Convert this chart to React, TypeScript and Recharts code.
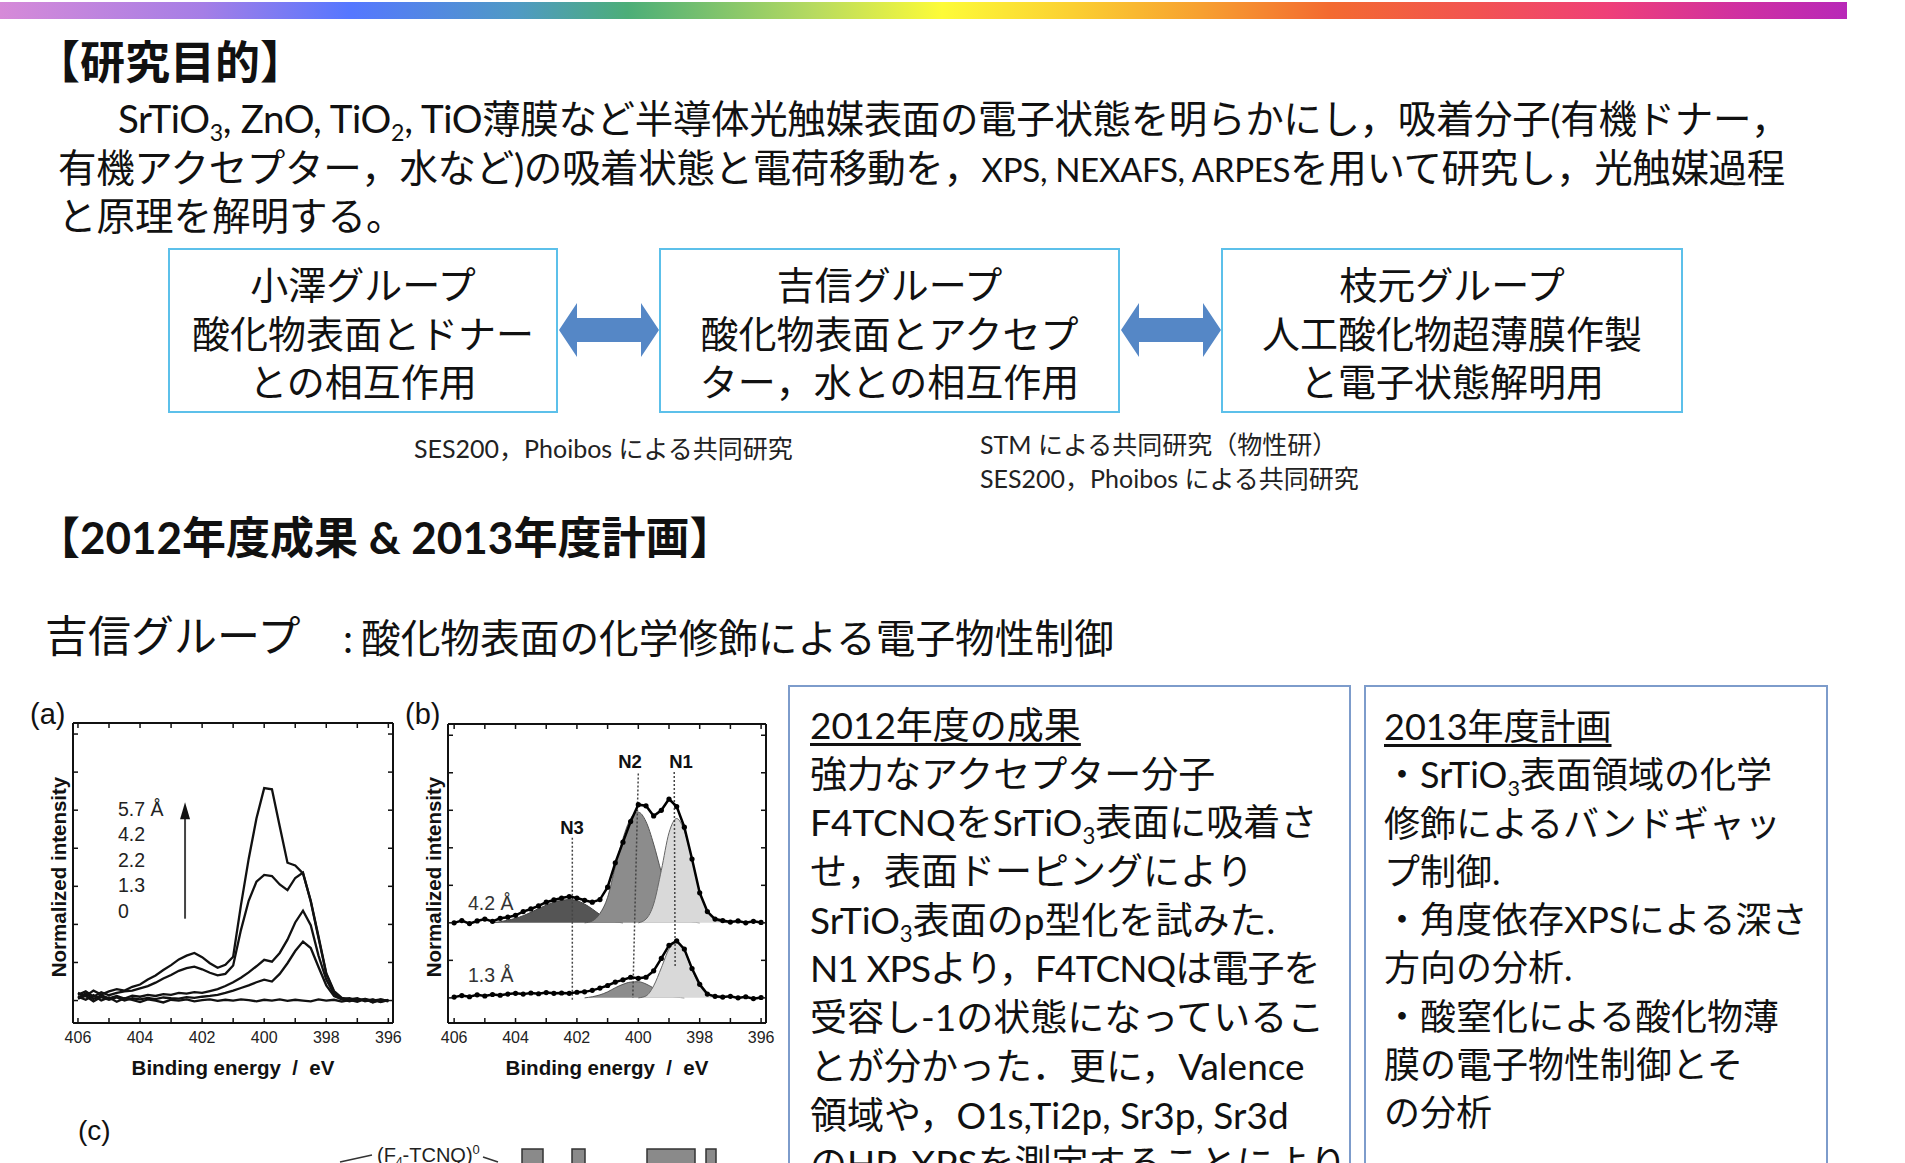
import React from 'react'
import { ComposedChart, Line, Area, XAxis, YAxis, ReferenceLine, ReferenceDot } from 'recharts'

// binding energy grid (eV), shared by both spectra panels
const energy = [
  406, 405.75, 405.5, 405.25, 405, 404.75, 404.5, 404.25, 404, 403.75,
  403.5, 403.25, 403, 402.75, 402.5, 402.25, 402, 401.75, 401.5, 401.25,
  401, 400.75, 400.5, 400.25, 400, 399.75, 399.5, 399.25, 399, 398.75,
  398.5, 398.25, 398, 397.75, 397.5, 397.25, 397, 396.75, 396.5, 396.25, 396,
]
const xTicks = [396, 397, 398, 399, 400, 401, 402, 403, 404, 405, 406]
const yTicks = [0, 1, 2, 3, 4, 5, 6, 7]

// (a) N1s spectra vs coverage
const a57 = [0.2, 0.12, 0.26, 0.16, 0.24, 0.3, 0.26, 0.36, 0.42, 0.55, 0.66, 0.8, 0.93, 1.08, 1.18, 1.25, 1.14, 0.98, 0.86, 0.94, 1.15, 2.5, 3.72, 4.78, 5.58, 5.55, 4.58, 3.62, 3.55, 3.34, 2.62, 1.68, 0.72, 0.25, 0.07, 0.03, 0.06, -0.02, 0.03, -0.03, 0.02]
const a42 = [0.15, 0.24, 0.1, 0.22, 0.14, 0.2, 0.24, 0.26, 0.32, 0.38, 0.47, 0.58, 0.67, 0.78, 0.85, 0.89, 0.82, 0.73, 0.66, 0.7, 0.92, 1.85, 2.62, 3.12, 3.3, 3.27, 3.05, 2.9, 3.22, 3.36, 2.6, 1.64, 0.7, 0.22, 0.05, 0.02, -0.03, 0.04, 0, 0.03, -0.01]
const a22 = [0.08, 0.18, 0.04, 0.14, 0.06, 0.12, 0.05, 0.13, 0.1, 0.15, 0.12, 0.17, 0.15, 0.2, 0.18, 0.22, 0.2, 0.25, 0.3, 0.38, 0.48, 0.6, 0.74, 0.9, 1.07, 1.02, 1.25, 1.6, 2.05, 2.36, 1.98, 1.18, 0.55, 0.17, 0.04, 0.06, 0, 0.03, -0.04, 0.02, 0]
const a13 = [0.05, 0.12, -0.02, 0.09, 0.02, 0.08, 0, 0.06, 0.03, 0.07, 0.04, 0.08, 0.06, 0.05, 0.09, 0.07, 0.1, 0.12, 0.15, 0.2, 0.26, 0.33, 0.4, 0.48, 0.55, 0.5, 0.7, 0.98, 1.3, 1.55, 1.38, 0.88, 0.4, 0.12, 0.03, -0.02, 0.04, 0, 0.02, -0.04, 0.01]
const a0 = [0.1, 0.02, 0.14, 0, 0.08, -0.03, 0.06, 0.02, -0.04, 0.03, 0, -0.05, 0.02, 0, 0.03, -0.02, 0.01, 0.03, -0.01, 0.02, 0, 0.03, 0.01, -0.02, 0.02, 0, 0.03, -0.01, 0.02, 0, -0.02, 0.03, 0, 0.02, -0.03, 0.01, 0, 0.04, -0.05, 0.02, -0.02]
const coverageLabels = ['5.7 Å', '4.2', '2.2', '1.3', '0']

// (b) measured points (4.2 Å sits on an offset of 2)
const b42 = [2, 2.06, 1.98, 2.05, 2.1, 2.04, 2.12, 2.15, 2.2, 2.3, 2.37, 2.45, 2.55, 2.61, 2.66, 2.7, 2.66, 2.6, 2.55, 2.62, 2.95, 3.6, 4.15, 4.7, 5.15, 5.12, 4.85, 5, 5.3, 5.1, 4.55, 3.7, 2.8, 2.3, 2.1, 2.06, 2.02, 2.05, 2, 2.04, 2.01]
const b13 = [0.02, 0.06, 0.03, 0.08, 0.05, 0.09, 0.07, 0.1, 0.12, 0.1, 0.13, 0.11, 0.14, 0.12, 0.13, 0.12, 0.15, 0.16, 0.2, 0.26, 0.33, 0.42, 0.48, 0.55, 0.52, 0.55, 0.72, 1.05, 1.4, 1.52, 1.3, 0.78, 0.36, 0.1, 0.04, 0.02, 0.04, 0, 0.03, -0.02, 0.01]
const offset42 = 2
const offset13 = 0

// fitted components (height above each spectrum's baseline)
const n3Up = [null, null, null, null, null, 0, 0.03, 0.07, 0.12, 0.19, 0.28, 0.38, 0.47, 0.55, 0.6, 0.62, 0.59, 0.5, 0.37, 0.22, 0.1, 0.03, 0, null, null, null, null, null, null, null, null, null, null, null, null, null, null, null, null, null, null]
const n2Up = [null, null, null, null, null, null, null, null, null, null, null, null, null, null, null, null, null, 0, 0.05, 0.25, 0.68, 1.5, 2.25, 2.78, 2.95, 2.7, 2.1, 1.35, 0.7, 0.3, 0.1, 0.03, 0, null, null, null, null, null, null, null, null]
const n1Up = [null, null, null, null, null, null, null, null, null, null, null, null, null, null, null, null, null, null, null, null, null, null, null, null, 0, 0.1, 0.5, 1.4, 2.4, 2.78, 2.45, 1.7, 0.85, 0.3, 0.08, 0.02, 0, null, null, null, null]
const n2Low = [null, null, null, null, null, null, null, null, null, null, null, null, null, null, null, null, null, 0, 0.03, 0.08, 0.16, 0.27, 0.36, 0.42, 0.43, 0.37, 0.26, 0.14, 0.06, 0.02, 0, null, null, null, null, null, null, null, null, null, null]
const n1Low = [null, null, null, null, null, null, null, null, null, null, null, null, null, null, null, null, null, null, null, null, null, null, null, null, 0, 0.05, 0.32, 0.8, 1.3, 1.47, 1.25, 0.75, 0.32, 0.1, 0.02, 0, null, null, null, null, null]

const JP = "Lato, 'Noto Sans CJK JP', sans-serif"
const CF = "'Liberation Sans', Arial, sans-serif"
const frame = { stroke: '#111', strokeWidth: 2 }
const TL = 5

const tick = (side: string, labels: boolean) => (p: any) => {
  const { x, y, payload } = p
  const v = payload.value
  let l = null
  if (side === 'bottom') l = <line x1={x} y1={y} x2={x} y2={y - TL} stroke="#111" strokeWidth={1.5} />
  if (side === 'top') l = <line x1={x} y1={y} x2={x} y2={y + TL} stroke="#111" strokeWidth={1.5} />
  if (side === 'left') l = <line x1={x} y1={y} x2={x + TL} y2={y} stroke="#111" strokeWidth={1.5} />
  if (side === 'right') l = <line x1={x} y1={y} x2={x - TL} y2={y} stroke="#111" strokeWidth={1.5} />
  return (
    <g>
      {l}
      {labels && v % 2 === 0 && (
        <text x={x} y={y + 20} textAnchor="middle" fontSize={16} fill="#222" fontFamily={CF}>
          {v}
        </text>
      )}
    </g>
  )
}

// boxed frame with inward ticks on all four sides
function frameAxes(domainX: number[], domainY: number[]) {
  return [
    <XAxis key="xb" xAxisId="b" dataKey="e" type="number" domain={domainX} reversed allowDataOverflow ticks={xTicks} interval={0} height={1} tickSize={0} tickMargin={0} tickLine={false} axisLine={frame} tick={tick('bottom', true)} />,
    <XAxis key="xt" xAxisId="t" orientation="top" dataKey="e" type="number" domain={domainX} reversed allowDataOverflow ticks={xTicks} interval={0} height={1} tickSize={0} tickMargin={0} tickLine={false} axisLine={frame} tick={tick('top', false)} />,
    <YAxis key="yl" yAxisId="l" type="number" domain={domainY} allowDataOverflow ticks={yTicks} interval={0} width={1} tickSize={0} tickMargin={0} tickLine={false} axisLine={frame} tick={tick('left', false)} />,
    <YAxis key="yr" yAxisId="r" orientation="right" type="number" domain={domainY} allowDataOverflow ticks={yTicks} interval={0} width={1} tickSize={0} tickMargin={0} tickLine={false} axisLine={frame} tick={tick('right', false)} />,
  ]
}

const arrowHead = (p: any) => (
  <polygon points={`${p.cx},${p.cy - 9} ${p.cx - 5},${p.cy + 8} ${p.cx + 5},${p.cy + 8}`} fill="#111" />
)

function PanelA() {
  const rows = energy.map((e, i) => ({ e, s57: a57[i], s42: a42[i], s22: a22[i], s13: a13[i], s0: a0[i] }))
  const keys = ['s57', 's42', 's22', 's13', 's0']
  return (
    <ComposedChart width={375} height={385} data={rows} margin={{ top: 22, right: 11, bottom: 61, left: 42 }}>
      {frameAxes([395.85, 406.16], [-0.59, 7.29])}
      {keys.map((k) => (
        <Line key={k} xAxisId="b" yAxisId="l" dataKey={k} type="linear" stroke="#111" strokeWidth={2.3} dot={false} isAnimationActive={false} />
      ))}
      <ReferenceLine xAxisId="b" yAxisId="l" segment={[{ x: 402.55, y: 2.15 }, { x: 402.55, y: 4.8 }]} stroke="#444" strokeWidth={2} />
      <ReferenceDot xAxisId="b" yAxisId="l" x={402.55} y={4.97} r={6} shape={arrowHead} />
    </ComposedChart>
  )
}

function PanelB() {
  const rows = energy.map((e, i) => ({
    e,
    b42: b42[i],
    b13: b13[i],
    n3u: n3Up[i] == null ? null : offset42 + n3Up[i],
    n2u: n2Up[i] == null ? null : offset42 + n2Up[i],
    n1u: n1Up[i] == null ? null : offset42 + n1Up[i],
    n2l: n2Low[i] == null ? null : offset13 + n2Low[i],
    n1l: n1Low[i] == null ? null : offset13 + n1Low[i],
  }))
  const dotted = { stroke: '#444', strokeWidth: 1.5, strokeDasharray: '2 2' }
  return (
    <ComposedChart width={375} height={385} data={rows} margin={{ top: 23, right: 13, bottom: 61, left: 42 }}>
      {frameAxes([395.84, 406.2], [-0.67, 7.3])}
      <Area xAxisId="b" yAxisId="l" dataKey="n3u" type="monotone" baseValue={offset42} fill="#555" fillOpacity={1} stroke="#444" strokeWidth={1} isAnimationActive={false} />
      <Area xAxisId="b" yAxisId="l" dataKey="n2u" type="monotone" baseValue={offset42} fill="#8c8c8c" fillOpacity={1} stroke="#555" strokeWidth={1} isAnimationActive={false} />
      <Area xAxisId="b" yAxisId="l" dataKey="n1u" type="monotone" baseValue={offset42} fill="#d9d9d9" fillOpacity={1} stroke="#666" strokeWidth={1} isAnimationActive={false} />
      <Area xAxisId="b" yAxisId="l" dataKey="n2l" type="monotone" baseValue={offset13} fill="#8c8c8c" fillOpacity={1} stroke="#555" strokeWidth={1} isAnimationActive={false} />
      <Area xAxisId="b" yAxisId="l" dataKey="n1l" type="monotone" baseValue={offset13} fill="#d9d9d9" fillOpacity={1} stroke="#666" strokeWidth={1} isAnimationActive={false} />
      <ReferenceLine xAxisId="b" yAxisId="l" segment={[{ x: 402.15, y: -0.05 }, { x: 402.15, y: 4.28 }]} {...dotted} />
      <ReferenceLine xAxisId="b" yAxisId="l" segment={[{ x: 400.0, y: 5.98 }, { x: 400.18, y: 0 }]} {...dotted} />
      <ReferenceLine xAxisId="b" yAxisId="l" segment={[{ x: 398.83, y: 6.02 }, { x: 398.8, y: 0.83 }]} {...dotted} />
      <Line xAxisId="b" yAxisId="l" dataKey="b42" type="linear" stroke="#000" strokeWidth={2.5} dot={{ r: 2.6, fill: '#000', stroke: 'none' }} isAnimationActive={false} />
      <Line xAxisId="b" yAxisId="l" dataKey="b13" type="linear" stroke="#000" strokeWidth={2.5} dot={{ r: 2.6, fill: '#000', stroke: 'none' }} isAnimationActive={false} />
    </ComposedChart>
  )
}

function T({ x, cy, size, bold, color, children, ls }: any) {
  return (
    <div
      style={{
        position: 'absolute',
        left: x,
        top: cy - size * 0.75,
        height: size * 1.5,
        lineHeight: `${size * 1.5}px`,
        fontSize: size,
        fontWeight: bold ? 700 : 400,
        whiteSpace: 'nowrap',
        color: color || '#111',
        letterSpacing: ls || 0,
      }}
    >
      {children}
    </div>
  )
}

// chart-side text (Arial-like), centred on (x, cy) unless left-aligned
function L({ x, cy, size, bold, color, children, left, rotate }: any) {
  const tr = (left ? 'translate(0,-50%)' : 'translate(-50%,-50%)') + (rotate ? ' rotate(-90deg)' : '')
  return (
    <div
      style={{
        position: 'absolute',
        left: x,
        top: cy,
        fontFamily: CF,
        fontSize: size,
        lineHeight: `${size * 1.2}px`,
        fontWeight: bold ? 700 : 400,
        color: color || '#111',
        whiteSpace: 'pre',
        transform: tr,
      }}
    >
      {children}
    </div>
  )
}

const Sub = ({ c }: { c: string }) => (
  <span style={{ fontSize: '0.6em', lineHeight: 0, position: 'relative', top: '0.35em' }}>{c}</span>
)

function GroupBox({ x, w, lines }: { x: number; w: number; lines: string[] }) {
  return (
    <div style={{ position: 'absolute', left: x, top: 248, width: w, height: 165, boxSizing: 'border-box', border: '2px solid #5cc0ea', textAlign: 'center', fontSize: 38, paddingTop: 10, whiteSpace: 'nowrap' }}>
      {lines.map((l) => (
        <div key={l} style={{ height: 48.5, lineHeight: '48.5px' }}>{l}</div>
      ))}
    </div>
  )
}

function TextBlock({ x, y, size, lh, lines }: { x: number; y: number; size: number; lh: number; lines: React.ReactNode[] }) {
  return (
    <div style={{ position: 'absolute', left: x, top: y, fontSize: size, whiteSpace: 'nowrap' }}>
      {lines.map((l, i) => (
        <div key={i} style={{ height: lh, lineHeight: `${lh}px`, textDecoration: i === 0 ? 'underline' : undefined, textUnderlineOffset: 4 }}>
          {l}
        </div>
      ))}
    </div>
  )
}

const DoubleArrow = ({ x }: { x: number }) => (
  <polygon
    points={`${x},330 ${x + 18},303 ${x + 18},318 ${x + 82},318 ${x + 82},303 ${x + 100},330 ${x + 82},357 ${x + 82},342 ${x + 18},342 ${x + 18},357`}
    fill="#5587c6"
  />
)

const Lat = ({ children }: any) => <span style={{ fontSize: '0.86em' }}>{children}</span>

export default function App() {
  return (
    <div style={{ position: 'absolute', left: 0, top: 0, width: 1905, height: 1163, overflow: 'hidden', background: '#fff', fontFamily: JP, color: '#111' }}>
      <div
        style={{
          position: 'absolute', left: 0, top: 2, width: 1847, height: 17,
          background: 'linear-gradient(to right, #d68ad8 0%, #a57ee6 11%, #5577ff 19%, #4f9ac4 28%, #4cae78 34%, #b6da60 44%, #fdfb38 51%, #fbd032 58%, #f7a030 65%, #f36a30 72%, #f25352 80%, #ef4078 87%, #d030a0 94%, #b828b8 100%)',
        }}
      />
      <T x={35} cy={63} size={45} bold>【研究目的】</T>
      <T x={118} cy={119} size={38.5} ls={-0.35}>
        SrTiO<Sub c="3" />, ZnO, TiO<Sub c="2" />, TiO薄膜など半導体光触媒表面の電子状態を明らかにし，吸着分子(有機ドナー，
      </T>
      <T x={58} cy={168} size={38.5} ls={-0.35}>
        有機アクセプター，水など)の吸着状態と電荷移動を，<Lat>XPS, NEXAFS, ARPES</Lat>を用いて研究し，光触媒過程
      </T>
      <T x={58} cy={216} size={38.5}>と原理を解明する。</T>

      <GroupBox x={168} w={390} lines={['小澤グループ', '酸化物表面とドナー', 'との相互作用']} />
      <GroupBox x={659} w={461} lines={['吉信グループ', '酸化物表面とアクセプ', 'ター，水との相互作用']} />
      <GroupBox x={1221} w={462} lines={['枝元グループ', '人工酸化物超薄膜作製', 'と電子状態解明用']} />
      <svg style={{ position: 'absolute', left: 0, top: 0 }} width={1905} height={420}>
        <DoubleArrow x={559} />
        <DoubleArrow x={1121} />
      </svg>
      <T x={414} cy={449} size={25} color="#222">SES200，Phoibos による共同研究</T>
      <T x={980} cy={445} size={25} color="#222">STM による共同研究（物性研）</T>
      <T x={980} cy={479} size={25} color="#222">SES200，Phoibos による共同研究</T>

      <T x={36} cy={537} size={44} bold>【2012年度成果 &amp; 2013年度計画】</T>
      <T x={45} cy={636} size={43}>吉信グループ</T>
      <T x={343} cy={638} size={40}>:</T>
      <T x={361} cy={638} size={39.7}>酸化物表面の化学修飾による電子物性制御</T>

      {/* (a) */}
      <L x={30} cy={714} size={29} left>(a)</L>
      <div style={{ position: 'absolute', left: 30, top: 700 }}>
        <PanelA />
      </div>
      {coverageLabels.map((c, i) => (
        <L key={c} x={118} cy={810 + i * 25.4} size={19.5} color="#222" left>{c}</L>
      ))}
      <L x={59} cy={877} size={20.5} bold rotate>Normalized intensity</L>
      <L x={233} cy={1068} size={20.5} bold>{'Binding energy  /  eV'}</L>

      {/* (b) */}
      <L x={405} cy={714} size={29} left>(b)</L>
      <div style={{ position: 'absolute', left: 405, top: 700 }}>
        <PanelB />
      </div>
      <L x={572} cy={828} size={18.5} bold>N3</L>
      <L x={630} cy={762} size={18.5} bold>N2</L>
      <L x={681} cy={762} size={18.5} bold>N1</L>
      <L x={468} cy={904} size={19.5} color="#333" left>4.2 Å</L>
      <L x={468} cy={976} size={19.5} color="#333" left>1.3 Å</L>
      <L x={434} cy={877} size={20.5} bold rotate>Normalized intensity</L>
      <L x={607} cy={1068} size={20.5} bold>{'Binding energy  /  eV'}</L>

      {/* (c) partially visible */}
      <L x={78} cy={1131} size={28} left>(c)</L>
      <L x={377} cy={1156} size={20} color="#222" left>
        (F<Sub c="4" />-TCNQ)<span style={{ fontSize: '0.65em', position: 'relative', top: '-0.6em' }}>0</span>
      </L>
      <svg style={{ position: 'absolute', left: 0, top: 1140 }} width={800} height={23}>
        <line x1={340} y1={22} x2={372} y2={15} stroke="#333" strokeWidth={1.5} />
        <line x1={483} y1={17} x2={498} y2={22} stroke="#333" strokeWidth={1.5} />
        <rect x={522} y={9} width={21} height={20} fill="#8a8a8a" stroke="#333" strokeWidth={1.5} />
        <rect x={572} y={9} width={13} height={20} fill="#8a8a8a" stroke="#333" strokeWidth={1.5} />
        <rect x={647} y={9} width={48} height={20} fill="#8a8a8a" stroke="#333" strokeWidth={1.5} />
        <rect x={706} y={9} width={10} height={20} fill="#8a8a8a" stroke="#333" strokeWidth={1.5} />
      </svg>

      {/* result / plan boxes */}
      <div style={{ position: 'absolute', left: 788, top: 685, width: 563, height: 520, boxSizing: 'border-box', border: '2px solid #7d9ccb' }} />
      <TextBlock
        x={810}
        y={701}
        size={37}
        lh={48.7}
        lines={[
          '2012年度の成果',
          '強力なアクセプター分子',
          <>F4TCNQをSrTiO<Sub c="3" />表面に吸着さ</>,
          'せ，表面ドーピングにより',
          <>SrTiO<Sub c="3" />表面のp型化を試みた.</>,
          <span style={{ letterSpacing: -0.9 }}>N1 XPSより，F4TCNQは電子を</span>,
          '受容し-1の状態になっているこ',
          'とが分かった．更に，Valence',
          '領域や，O1s,Ti2p, Sr3p, Sr3d',
          'のHR-XPSを測定することにより',
        ]}
      />
      <div style={{ position: 'absolute', left: 1364, top: 685, width: 464, height: 520, boxSizing: 'border-box', border: '2px solid #7d9ccb' }} />
      <TextBlock
        x={1384}
        y={702}
        size={36}
        lh={48.3}
        lines={[
          '2013年度計画',
          <>・SrTiO<Sub c="3" />表面領域の化学</>,
          '修飾によるバンドギャッ',
          'プ制御.',
          '・角度依存XPSによる深さ',
          '方向の分析.',
          '・酸窒化による酸化物薄',
          '膜の電子物性制御とそ',
          'の分析',
        ]}
      />
    </div>
  )
}
